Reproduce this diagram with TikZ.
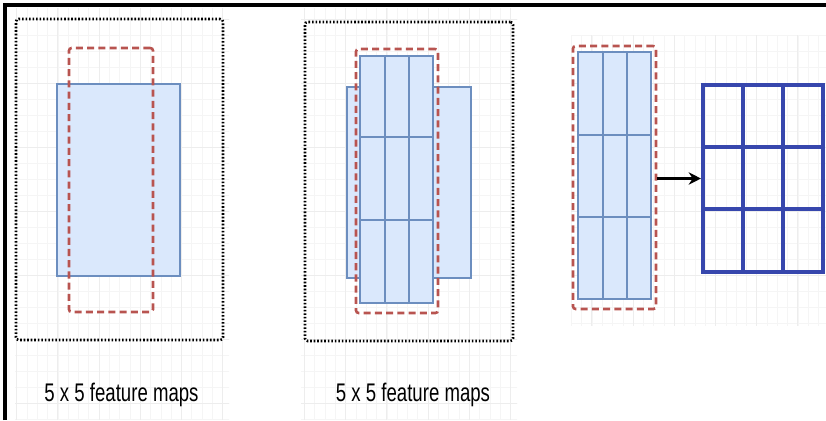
\documentclass[tikz,border=0pt]{standalone}
\usepackage{fontspec}
\usepackage{graphicx}
\usetikzlibrary{fit,arrows.meta}
\newfontfamily\capfont{Liberation Sans}

\definecolor{mapfill}{HTML}{DAE8FC}
\definecolor{mapline}{HTML}{6C8EBF}
\definecolor{winred}{HTML}{B85450}
\definecolor{outblue}{RGB}{55,71,173}

\tikzset{
  mapbox/.style={draw=mapline, fill=mapfill, line width=1.7pt, inner sep=0pt},
  mapsplit/.style={draw=mapline, line width=1.7pt},
  window/.style={draw=winred, line width=1.5pt, dash pattern=on 4pt off 2.4pt,
    rounded corners=1.5pt, inner sep=0pt},
  padbox/.style={draw=black, line width=1.5pt, dash pattern=on 0.9pt off 1.1pt,
    rounded corners=1.5pt, inner sep=0pt},
  outbox/.style={draw=outblue, line width=2.3pt, inner sep=0pt},
  outsplit/.style={draw=outblue, line width=2.3pt},
  caption/.style={anchor=base, inner sep=0pt,
    font=\capfont\fontsize{14.5}{16}\selectfont},
  faint/.style={draw=black!4, line width=0.4pt},
  major/.style={draw=black!7, line width=0.5pt}
}

\begin{document}
\begin{tikzpicture}[x=0.02cm, y=-0.02cm]
  \useasboundingbox (0,0) rectangle (826,420);

  % faint background grid
  \begin{scope}
    \clip (15,8) rectangle (229,420);
    \foreach \i in {0,...,21} \draw[faint] ({16.7+10.3*\i},0) -- ++(0,420);
    \foreach \j in {0,...,26} \draw[faint] (0,{3+16*\j}) -- ++(240,0);
    \foreach \i in {0,...,5} \draw[major] ({16.7+41.2*\i},0) -- ++(0,420);
    \foreach \j in {0,...,6} \draw[major] (0,{19+64*\j}) -- ++(240,0);
  \end{scope}
  \begin{scope}
    \clip (301,8) rectangle (517,420);
    \foreach \i in {0,...,21} \draw[faint] ({304.5+10.3*\i},0) -- ++(0,420);
    \foreach \j in {0,...,26} \draw[faint] (290,{3+16*\j}) -- ++(240,0);
    \foreach \i in {0,...,5} \draw[major] ({304.5+41.2*\i},0) -- ++(0,420);
    \foreach \j in {0,...,6} \draw[major] (290,{19+64*\j}) -- ++(240,0);
  \end{scope}
  \begin{scope}
    \clip (571,35) rectangle (826,325);
    \foreach \i in {0,...,25} \draw[faint] ({571.4+10.3*\i},0) -- ++(0,420);
    \foreach \j in {0,...,26} \draw[faint] (560,{3+16*\j}) -- ++(270,0);
    \foreach \i in {0,...,6} \draw[major] ({591.9+41.2*\i},0) -- ++(0,420);
    \foreach \j in {0,...,6} \draw[major] (560,{19+64*\j}) -- ++(270,0);
  \end{scope}

  % frame
  \draw[line width=1.8pt] (5,420) -- (5,5) -- (826,5);

  % first map
  \node[padbox, fit={(16,19) (223,340)}] (pad1) {};
  \node[mapbox, fit={(57,84) (180,276)}] (map1) {};
  \node[window, fit={(69,48) (153,312)}] (win1) {};
  \node[caption] (cap1) at (121.5,401) {\scalebox{0.73}[1]{5 x 5 feature maps}};

  % second map
  \node[padbox, fit={(305,22) (513,341)}] (pad2) {};
  \node[mapbox, fit={(347,87) (471,278)}] (map2) {};
  \node[window, fit={(356,49) (438,313)}] (win2) {};
  \node[mapbox, fit={(360,56) (433,303)}] (slice2) {};
  \foreach \x in {385,409} \draw[mapsplit] (\x,56) -- (\x,303);
  \foreach \y in {137,220} \draw[mapsplit] (360,\y) -- (433,\y);
  \node[caption] (cap2) at (413,401) {\scalebox{0.73}[1]{5 x 5 feature maps}};

  % window and result
  \node[window, fit={(573,46) (656,309)}] (win3) {};
  \node[mapbox, fit={(578,52) (651,299)}] (slice3) {};
  \foreach \x in {603,627} \draw[mapsplit] (\x,52) -- (\x,299);
  \foreach \y in {135,217} \draw[mapsplit] (578,\y) -- (651,\y);

  \node[outbox, fit={(703,85) (823,272)}] (out) {};
  \foreach \x in {743,783} \draw[outsplit] (\x,85) -- (\x,272);
  \foreach \y in {147,209} \draw[outsplit] (703,\y) -- (823,\y);

  \draw[line width=1.4pt, -{Stealth[length=7pt,width=7pt]}] (win3.east |- out.west) -- (out.west);
\end{tikzpicture}
\end{document}
